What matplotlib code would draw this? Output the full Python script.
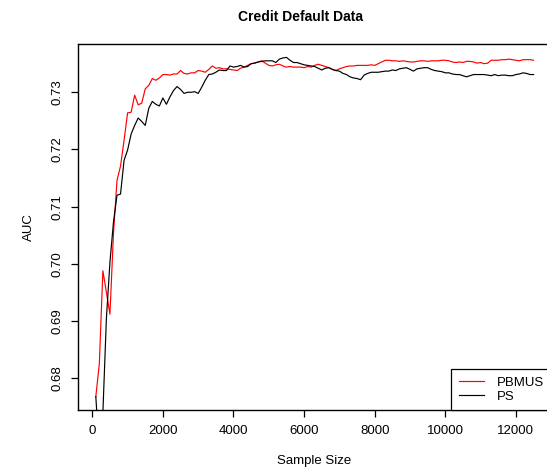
import numpy as np
import matplotlib
matplotlib.use('Agg')
import matplotlib.pyplot as plt

plt.rcParams['font.family'] = ['Liberation Sans', 'DejaVu Sans']

# Sample sizes 100 .. 12500
sample_size = list(range(100, 12600, 100))

# PBMUS (red)
auc_pbmus = [
    0.6768, 0.6826, 0.6988, 0.6950, 0.6912, 0.7053, 0.7146, 0.7171, 0.7216, 0.7264,
    0.7265, 0.7295, 0.7278, 0.7281, 0.7306, 0.7312, 0.7324, 0.7321, 0.7325, 0.7331,
    0.7331, 0.7330, 0.7332, 0.7332, 0.7338, 0.7333, 0.7332, 0.7334, 0.7334, 0.7338,
    0.7337, 0.7335, 0.7340, 0.7346, 0.7342, 0.7343, 0.7341, 0.7341, 0.7340, 0.7339,
    0.7338, 0.7342, 0.7344, 0.7347, 0.7350, 0.7351, 0.7353, 0.7355, 0.7351, 0.7347,
    0.7346, 0.7348, 0.7349, 0.7346, 0.7344, 0.7345, 0.7344, 0.7344, 0.7344, 0.7343,
    0.7345, 0.7344, 0.7347, 0.7349, 0.7347, 0.7345, 0.7343, 0.7340, 0.7338, 0.7341,
    0.7343, 0.7345, 0.7346, 0.7346, 0.7347, 0.7347, 0.7347, 0.7347, 0.7348, 0.7347,
    0.7350, 0.7353, 0.7356, 0.7356, 0.7355, 0.7355, 0.7354, 0.7355, 0.7354, 0.7353,
    0.7353, 0.7354, 0.7355, 0.7355, 0.7354, 0.7355, 0.7355, 0.7355, 0.7356, 0.7356,
    0.7355, 0.7353, 0.7352, 0.7353, 0.7352, 0.7354, 0.7354, 0.7353, 0.7351, 0.7352,
    0.7350, 0.7351, 0.7356, 0.7356, 0.7356, 0.7357, 0.7357, 0.7358, 0.7357, 0.7356,
    0.7355, 0.7357, 0.7357, 0.7357, 0.7356,
]

# PS (black)
auc_ps = [
    0.6768, 0.6670, 0.6740, 0.6905, 0.7003, 0.7073, 0.7120, 0.7122, 0.7181, 0.7199,
    0.7227, 0.7242, 0.7255, 0.7249, 0.7242, 0.7272, 0.7284, 0.7279, 0.7276, 0.7290,
    0.7279, 0.7292, 0.7303, 0.7310, 0.7305, 0.7298, 0.7300, 0.7300, 0.7301, 0.7298,
    0.7309, 0.7321, 0.7331, 0.7332, 0.7335, 0.7339, 0.7338, 0.7338, 0.7346, 0.7344,
    0.7345, 0.7347, 0.7344, 0.7345, 0.7350, 0.7351, 0.7353, 0.7354, 0.7355, 0.7355,
    0.7355, 0.7352, 0.7358, 0.7360, 0.7361, 0.7356, 0.7352, 0.7352, 0.7350, 0.7348,
    0.7347, 0.7346, 0.7345, 0.7342, 0.7339, 0.7342, 0.7343, 0.7340, 0.7338, 0.7337,
    0.7333, 0.7331, 0.7327, 0.7325, 0.7324, 0.7322, 0.7330, 0.7333, 0.7335, 0.7335,
    0.7335, 0.7336, 0.7337, 0.7337, 0.7339, 0.7338, 0.7341, 0.7342, 0.7343, 0.7340,
    0.7337, 0.7341, 0.7342, 0.7343, 0.7343, 0.7340, 0.7338, 0.7337, 0.7336, 0.7334,
    0.7334, 0.7332, 0.7331, 0.7331, 0.7329, 0.7327, 0.7329, 0.7331, 0.7331, 0.7331,
    0.7331, 0.7330, 0.7329, 0.7331, 0.7329, 0.7330, 0.7330, 0.7329, 0.7329, 0.7331,
    0.7332, 0.7334, 0.7333, 0.7331, 0.7331,
]

x_ticks = [0, 2000, 4000, 6000, 8000, 10000, 12000]
y_ticks = [0.68, 0.69, 0.70, 0.71, 0.72, 0.73]

fig = plt.figure(figsize=(5.47, 4.70), dpi=100)
# plot region runs a little past the right edge, like the reference
ax = fig.add_axes([77.5 / 547, 60 / 470, 474 / 547, 366 / 470])

ax.plot(sample_size, auc_pbmus, color='red', lw=0.85, label='PBMUS')
ax.plot(sample_size, auc_ps, color='black', lw=0.85, label='PS')

ax.set_xlim(-419, 13008)
ax.set_ylim(0.67445, 0.73844)
ax.set_xticks(x_ticks)
ax.set_xticklabels([str(v) for v in x_ticks])
ax.set_yticks(y_ticks)
ax.set_yticklabels([f'{v:.2f}' for v in y_ticks])

for s in ax.spines.values():
    s.set_linewidth(1.0)
    s.set_color('black')
ax.tick_params(direction='out', length=5, width=0.9, labelsize=9.5, pad=6)
ax.tick_params(axis='y', labelrotation=90, pad=5)
for lab in ax.get_yticklabels():
    lab.set_va('center')

ax.set_xlabel('Sample Size', fontsize=9.5, labelpad=13)
ax.set_ylabel('AUC', fontsize=9.5, labelpad=12)

fig.text(300 / 547, 1 - 17 / 470, 'Credit Default Data', ha='center', va='center',
         fontsize=10, fontweight='bold')

leg = ax.legend(loc='lower right', borderaxespad=0, fontsize=9.5, fancybox=False,
                framealpha=1, edgecolor='black', handlelength=1.9, handletextpad=1.0,
                labelspacing=0.15, borderpad=0.55)
leg.get_frame().set_linewidth(0.9)

fig.savefig('out.png', dpi=100)
